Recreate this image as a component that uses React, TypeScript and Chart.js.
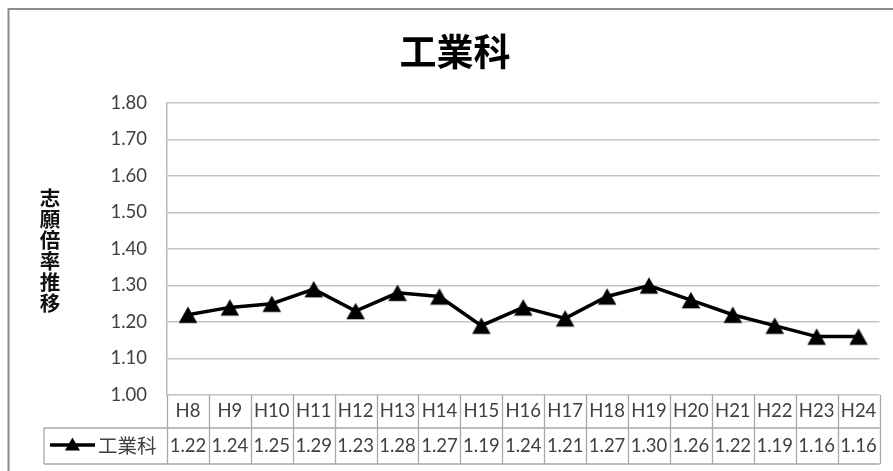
import React, { useEffect, useRef } from "react";
import { Chart, registerables } from "chart.js";

Chart.register(...registerables);

// 年度 (平成) と志願倍率
const categories = ["H8", "H9", "H10", "H11", "H12", "H13", "H14", "H15", "H16", "H17", "H18", "H19", "H20", "H21", "H22", "H23", "H24"];
const ratios = [1.22, 1.24, 1.25, 1.29, 1.23, 1.28, 1.27, 1.19, 1.24, 1.21, 1.27, 1.30, 1.26, 1.22, 1.19, 1.16, 1.16];
const seriesName = "工業科";
const chartTitle = "工業科";
const axisTitle = "志願倍率推移";
const yMin = 1.0;
const yMax = 1.8;
const yStep = 0.1;

const WIDTH = 893;
const HEIGHT = 471;

const latinFont = "Lato, 'Noto Sans', sans-serif";
const cjkFont = "'Noto Sans CJK JP', 'Noto Sans', sans-serif";
const textColor = "#404040";
const tableLine = "#a8a8a8";

// Filled triangle marker whose bounding box is centred on the data point
function drawTriangle(ctx: CanvasRenderingContext2D, cx: number, cy: number, w: number, h: number) {
  ctx.beginPath();
  ctx.moveTo(cx, cy - h / 2);
  ctx.lineTo(cx + w / 2, cy + h / 2);
  ctx.lineTo(cx - w / 2, cy + h / 2);
  ctx.closePath();
  ctx.fill();
}

function makeMarker(): HTMLCanvasElement {
  const c = document.createElement("canvas");
  c.width = 22;
  c.height = 22;
  const g = c.getContext("2d")!;
  g.fillStyle = "#000";
  drawTriangle(g, 11, 11, 18.5, 16.5);
  return c;
}

// Frame, title, vertical axis caption and the data table under the plot
const decorPlugin = {
  id: "decor",
  afterDraw(chart: Chart) {
    const { ctx, chartArea } = chart;
    const xScale = chart.scales.x;
    const { left, right, bottom } = chartArea;
    const colW = (right - left) / categories.length;
    const row1Bottom = bottom + 33;
    const row2Bottom = bottom + 69;
    const legendLeft = 44;

    ctx.save();

    // outer frame (left and top edges)
    ctx.strokeStyle = "#8c8c8c";
    ctx.lineWidth = 2;
    ctx.beginPath();
    ctx.moveTo(8.5, HEIGHT);
    ctx.lineTo(8.5, 9);
    ctx.lineTo(WIDTH, 9);
    ctx.stroke();

    // title
    ctx.fillStyle = "#000";
    ctx.font = `bold 37px ${cjkFont}`;
    ctx.textAlign = "center";
    ctx.textBaseline = "middle";
    ctx.fillText(chartTitle, 455, 52);

    // vertical axis caption, one character per line
    ctx.font = `bold 20.5px ${cjkFont}`;
    ctx.fillStyle = "#111";
    const chars = Array.from(axisTitle);
    chars.forEach((ch, i) => {
      ctx.fillText(ch, 50, 198 + i * 21);
    });

    // data table grid
    ctx.strokeStyle = tableLine;
    ctx.lineWidth = 1.3;
    ctx.beginPath();
    ctx.moveTo(legendLeft, row1Bottom);
    ctx.lineTo(right, row1Bottom);
    ctx.moveTo(legendLeft, row2Bottom);
    ctx.lineTo(right, row2Bottom);
    ctx.moveTo(legendLeft, row1Bottom);
    ctx.lineTo(legendLeft, row2Bottom);
    for (let i = 0; i <= categories.length; i++) {
      const x = Math.round(left + i * colW) + 0.5;
      ctx.moveTo(x, bottom);
      ctx.lineTo(x, row2Bottom);
    }
    ctx.stroke();

    // table text
    ctx.fillStyle = textColor;
    ctx.font = `18.5px ${latinFont}`;
    ctx.textAlign = "center";
    const headY = (bottom + row1Bottom) / 2;
    const valY = (row1Bottom + row2Bottom) / 2;
    categories.forEach((c, i) => {
      const x = xScale.getPixelForValue(i);
      ctx.fillText(c, x, headY);
      ctx.fillText(ratios[i].toFixed(2), x, valY);
    });

    // legend key in the table
    ctx.strokeStyle = "#000";
    ctx.fillStyle = "#000";
    ctx.lineWidth = 3.5;
    ctx.beginPath();
    ctx.moveTo(50, valY - 1);
    ctx.lineTo(95, valY - 1);
    ctx.stroke();
    drawTriangle(ctx, 72.5, valY - 2, 15, 13);

    ctx.fillStyle = textColor;
    ctx.font = `19.5px ${cjkFont}`;
    ctx.textAlign = "left";
    ctx.fillText(seriesName, 98, valY);

    ctx.restore();
  },
};

export default function App() {
  const canvasRef = useRef<HTMLCanvasElement | null>(null);

  useEffect(() => {
    const canvas = canvasRef.current;
    if (!canvas) return;
    const marker = makeMarker();
    const chart = new Chart(canvas, {
      type: "line",
      data: {
        labels: categories,
        datasets: [
          {
            label: seriesName,
            data: ratios,
            borderColor: "#000",
            backgroundColor: "#000",
            borderWidth: 3.5,
            pointStyle: marker,
            pointRadius: 10,
            tension: 0,
            clip: false,
          },
        ],
      },
      options: {
        responsive: false,
        animation: false,
        devicePixelRatio: 1,
        layout: {
          padding: { left: 0, top: 103, right: WIDTH - 881, bottom: HEIGHT - 395 },
        },
        plugins: {
          legend: { display: false },
          tooltip: { enabled: false },
          title: { display: false },
        },
        scales: {
          x: {
            type: "category",
            offset: true,
            display: false,
          },
          y: {
            type: "linear",
            min: yMin,
            max: yMax,
            afterFit: (scale: any) => {
              scale.width = 167;
            },
            ticks: {
              stepSize: yStep,
              padding: 20,
              color: textColor,
              font: { family: latinFont, size: 18.5 },
              callback: (v: any) => Number(v).toFixed(2),
            },
            grid: {
              color: "#c4c4c4",
              lineWidth: 1.5,
              drawTicks: false,
            },
            border: {
              display: true,
              color: "#b8b8b8",
              width: 1.5,
            },
          },
        },
      },
      plugins: [decorPlugin],
    });
    return () => chart.destroy();
  }, []);

  return (
    <div style={{ position: "fixed", left: 0, top: 0, width: WIDTH, height: HEIGHT, background: "#fff" }}>
      <canvas ref={canvasRef} width={WIDTH} height={HEIGHT} style={{ display: "block", width: WIDTH, height: HEIGHT }} />
    </div>
  );
}
